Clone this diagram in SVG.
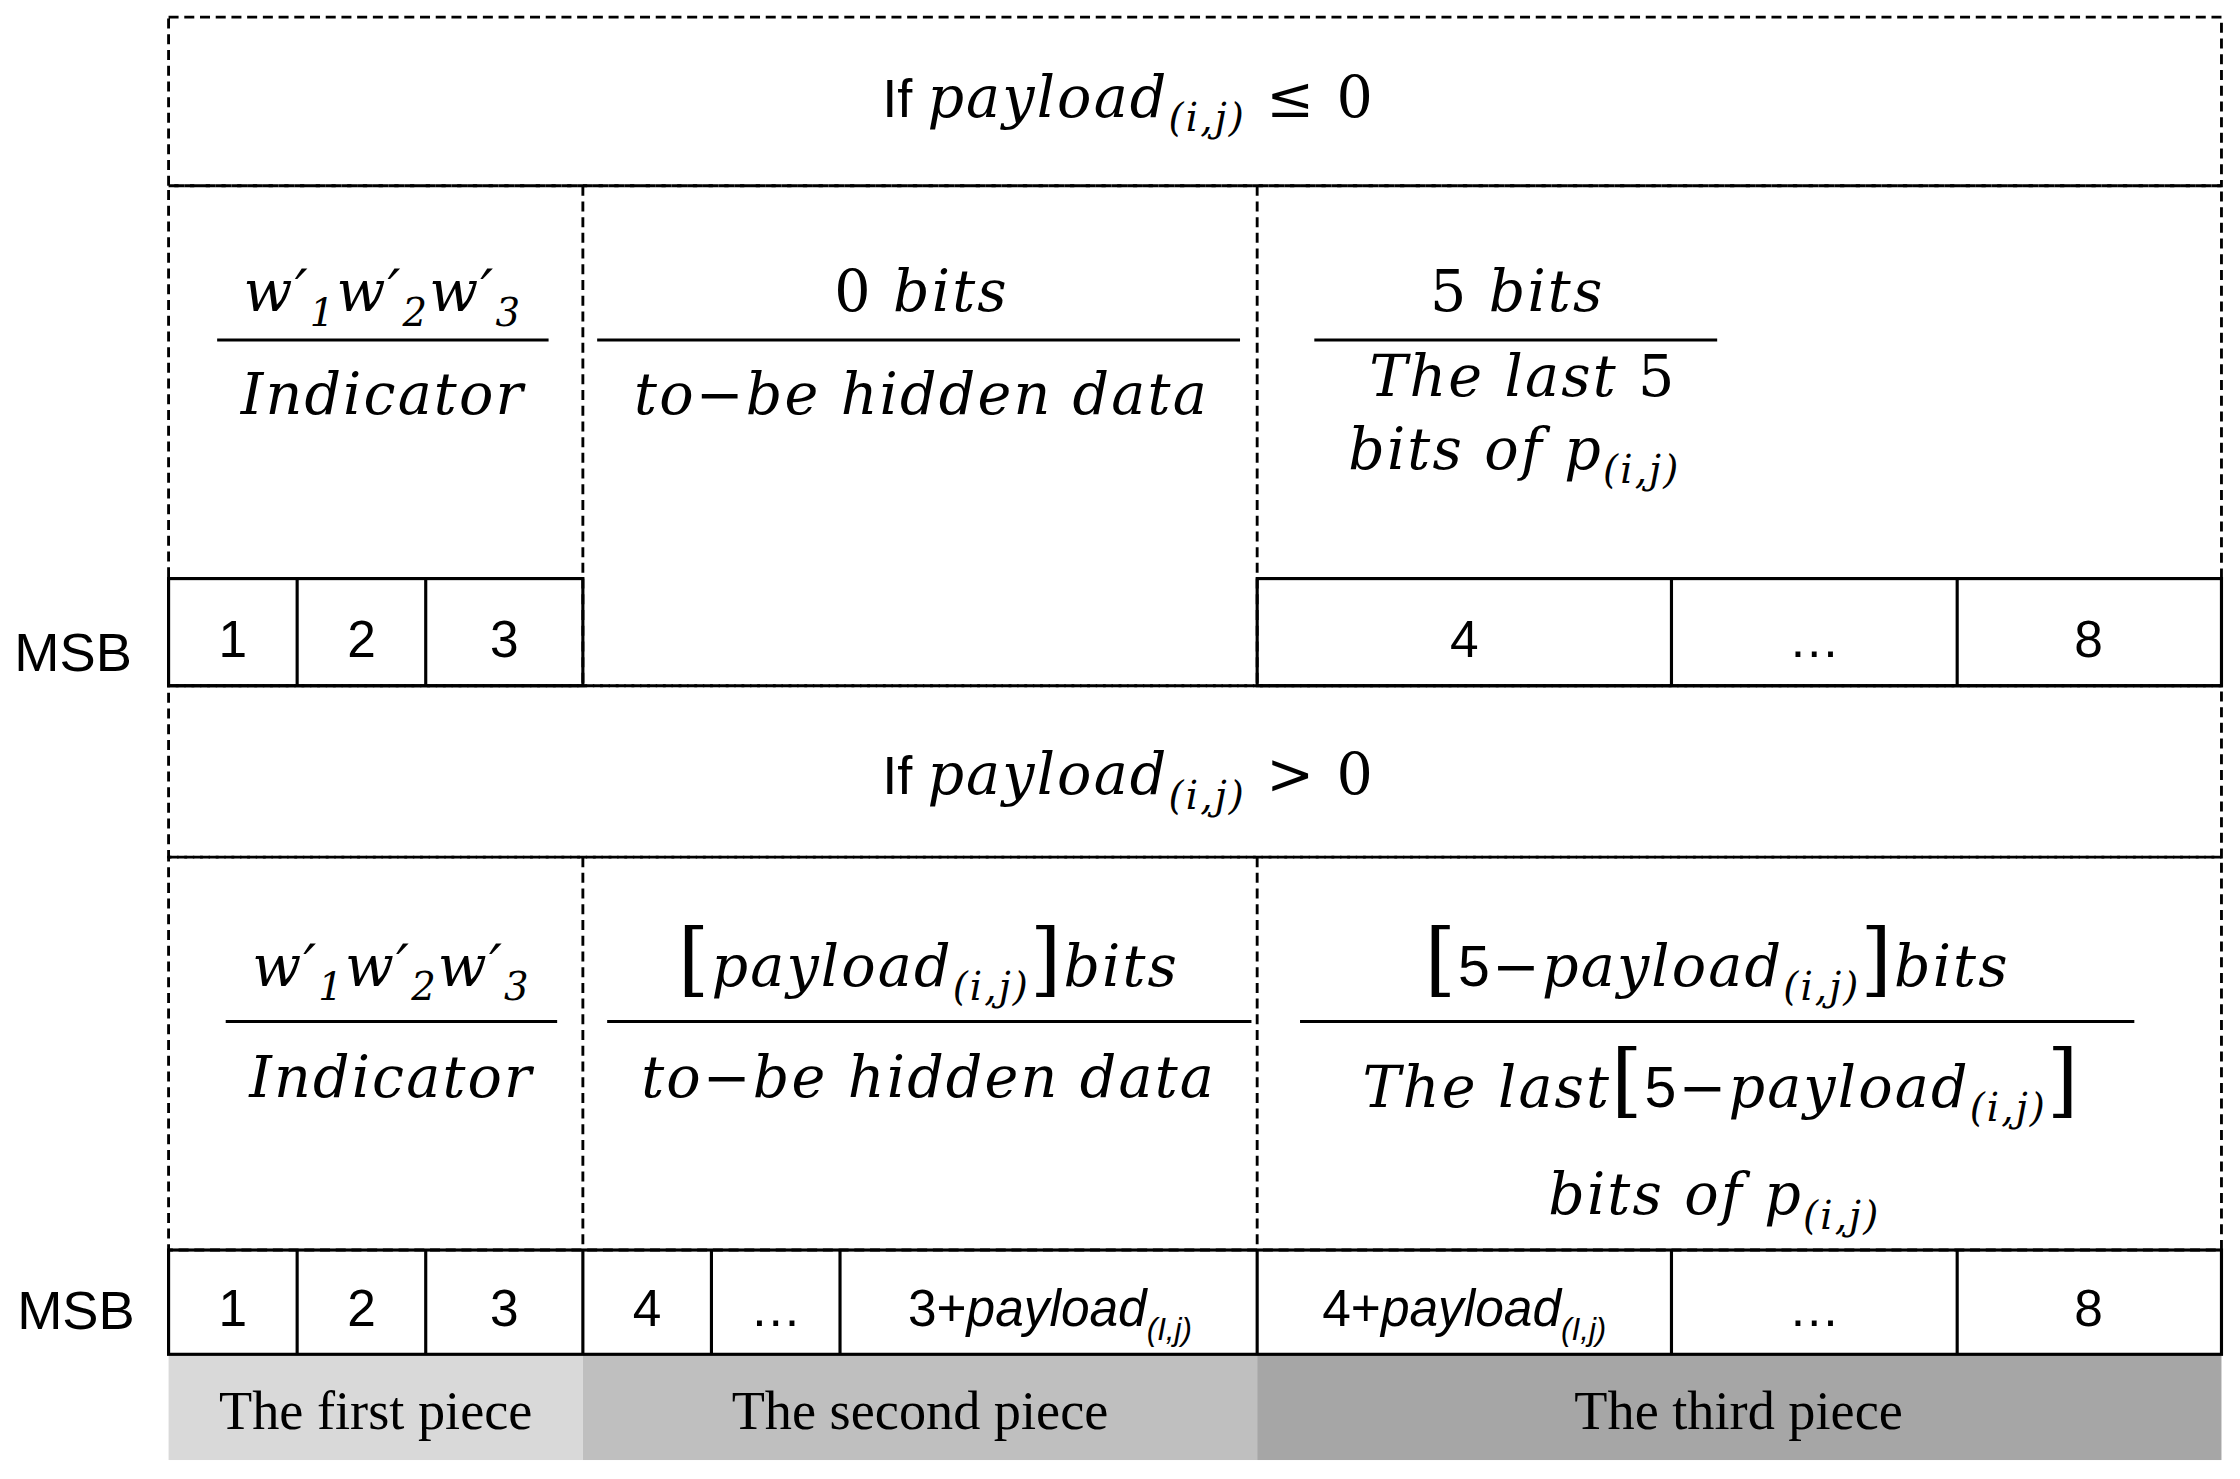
<svg xmlns="http://www.w3.org/2000/svg" width="2240" height="1479" viewBox="0 0 2240 1479">
<style>
.d{fill:none;stroke:#000;stroke-width:2;stroke-dasharray:7,4}
.s{fill:none;stroke:#000;stroke-width:2.2}
.m{font-family:"DejaVu Serif",serif;font-style:italic;font-size:40px;letter-spacing:1.5px}
.u{font-family:"Liberation Sans",sans-serif;font-size:38px}
.z{font-family:"DejaVu Serif",serif;font-style:normal}
.n{font-family:"Liberation Sans",sans-serif;font-size:36px;text-anchor:middle}
.p{font-family:"Liberation Serif",serif;font-size:38px;text-anchor:middle}
.sub{font-size:27px}
</style>
<rect width="2240" height="1479" fill="#fff"/>
<g transform="scale(1.4286)">
<g id="pieces">
<rect x="118" y="948" width="290" height="74" fill="#d9d9d9"/>
<rect x="408" y="948" width="472" height="74" fill="#bfbfbf"/>
<rect x="880" y="948" width="675" height="74" fill="#a6a6a6"/>
<text class="p" x="263" y="1000">The first piece</text>
<text class="p" x="644" y="1000">The second piece</text>
<text class="p" x="1217" y="1000">The third piece</text>
</g>
<g id="regions">
<rect class="d" x="118" y="12" width="1437" height="118"/>
<rect class="d" x="118" y="130" width="1437" height="350"/>
<line class="d" x1="408" y1="130" x2="408" y2="480"/>
<line class="d" x1="880" y1="130" x2="880" y2="480"/>
<rect class="d" x="118" y="480" width="1437" height="120"/>
<rect class="d" x="118" y="600" width="1437" height="275"/>
<line class="d" x1="408" y1="600" x2="408" y2="875"/>
<line class="d" x1="880" y1="600" x2="880" y2="875"/>
</g>
<g id="header1">
<text x="790" y="82" text-anchor="middle"><tspan class="u">If </tspan><tspan class="m">payload</tspan><tspan class="m sub" dy="10">(i,j)</tspan><tspan class="m z" dy="-10"> ≤ 0</tspan></text>
</g>
<g id="row1">
<text class="m" x="268" y="218" text-anchor="middle">w′<tspan class="sub" dy="10">1</tspan><tspan dy="-10">w′</tspan><tspan class="sub" dy="10">2</tspan><tspan dy="-10">w′</tspan><tspan class="sub" dy="10">3</tspan></text>
<line class="s" x1="152" y1="238" x2="384" y2="238"/>
<text class="m" x="268" y="290" text-anchor="middle">Indicator</text>
<text class="m" x="645" y="218" text-anchor="middle"><tspan class="z">0</tspan> bits</text>
<line class="s" x1="418" y1="238" x2="868" y2="238"/>
<text class="m" x="645" y="290" text-anchor="middle">to−be hidden data</text>
<text class="m" x="1062" y="218" text-anchor="middle"><tspan class="z">5</tspan> bits</text>
<line class="s" x1="920" y1="238" x2="1202" y2="238"/>
<text class="m" x="1066" y="277" text-anchor="middle">The last <tspan class="z">5</tspan></text>
<text class="m" x="1060" y="328" text-anchor="middle">bits of p<tspan class="sub" dy="10">(i,j)</tspan></text>
</g>
<g id="cells1">
<text class="u" x="10" y="470">MSB</text>
<rect class="s" x="118" y="405" width="290" height="75"/>
<line class="s" x1="208" y1="405" x2="208" y2="480"/><line class="s" x1="298" y1="405" x2="298" y2="480"/>
<text class="n" x="163" y="460">1</text><text class="n" x="253" y="460">2</text><text class="n" x="353" y="460">3</text>
<rect class="s" x="880" y="405" width="675" height="75"/>
<line class="s" x1="1170" y1="405" x2="1170" y2="480"/><line class="s" x1="1370" y1="405" x2="1370" y2="480"/>
<text class="n" x="1025" y="460">4</text><text class="n" x="1270" y="460">…</text><text class="n" x="1462" y="460">8</text>
</g>
<g id="header2">
<text x="790" y="556" text-anchor="middle"><tspan class="u">If </tspan><tspan class="m">payload</tspan><tspan class="m sub" dy="10">(i,j)</tspan><tspan class="m z" dy="-10"> &gt; 0</tspan></text>
</g>
<g id="row2">
<text class="m" x="274" y="690" text-anchor="middle">w′<tspan class="sub" dy="10">1</tspan><tspan dy="-10">w′</tspan><tspan class="sub" dy="10">2</tspan><tspan dy="-10">w′</tspan><tspan class="sub" dy="10">3</tspan></text>
<line class="s" x1="158" y1="715" x2="390" y2="715"/>
<text class="m" x="274" y="768" text-anchor="middle">Indicator</text>
<text class="m" x="650" y="690" text-anchor="middle"><tspan class="z" font-size="56">[</tspan>payload<tspan class="sub" dy="10">(i,j)</tspan><tspan class="z" font-size="56" dy="-10">]</tspan>bits</text>
<line class="s" x1="425" y1="715" x2="876" y2="715"/>
<text class="m" x="650" y="768" text-anchor="middle">to−be hidden data</text>
<text class="m" x="1202" y="690" text-anchor="middle"><tspan class="z" font-size="56">[</tspan><tspan font-family="Liberation Sans" font-style="normal">5</tspan>−payload<tspan class="sub" dy="10">(i,j)</tspan><tspan class="z" font-size="56" dy="-10">]</tspan>bits</text>
<line class="s" x1="910" y1="715" x2="1494" y2="715"/>
<text class="m" x="1205" y="775" text-anchor="middle">The last<tspan class="z" font-size="56">[</tspan><tspan font-family="Liberation Sans" font-style="normal">5</tspan>−payload<tspan class="sub" dy="10">(i,j)</tspan><tspan class="z" font-size="56" dy="-10">]</tspan></text>
<text class="m" x="1200" y="850" text-anchor="middle">bits of p<tspan class="sub" dy="10">(i,j)</tspan></text>
</g>
<g id="cells2">
<text class="u" x="12" y="930">MSB</text>
<rect class="s" x="118" y="875" width="1437" height="73"/>
<line class="s" x1="208" y1="875" x2="208" y2="948"/><line class="s" x1="298" y1="875" x2="298" y2="948"/>
<line class="s" x1="408" y1="875" x2="408" y2="948"/><line class="s" x1="498" y1="875" x2="498" y2="948"/>
<line class="s" x1="588" y1="875" x2="588" y2="948"/><line class="s" x1="880" y1="875" x2="880" y2="948"/>
<line class="s" x1="1170" y1="875" x2="1170" y2="948"/><line class="s" x1="1370" y1="875" x2="1370" y2="948"/>
<text class="n" x="163" y="928">1</text><text class="n" x="253" y="928">2</text><text class="n" x="353" y="928">3</text>
<text class="n" x="453" y="928">4</text><text class="n" x="543" y="928">…</text>
<text class="n" x="735" y="928">3+<tspan font-style="italic">payload</tspan><tspan font-style="italic" font-size="22" dy="10">(I,j)</tspan></text>
<text class="n" x="1025" y="928">4+<tspan font-style="italic">payload</tspan><tspan font-style="italic" font-size="22" dy="10">(I,j)</tspan></text>
<text class="n" x="1270" y="928">…</text><text class="n" x="1462" y="928">8</text>
</g>
</g>
</svg>
